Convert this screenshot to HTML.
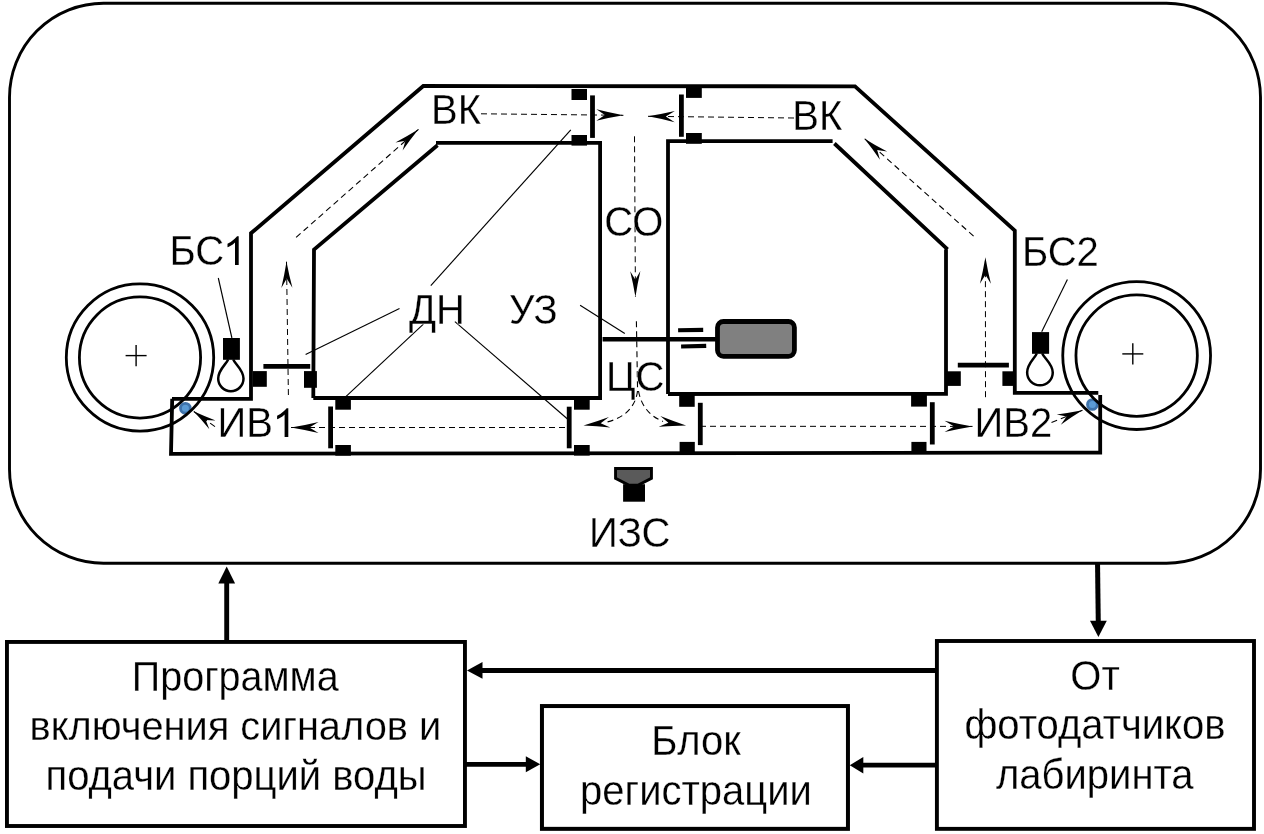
<!DOCTYPE html><html><head><meta charset="utf-8"><style>html,body{margin:0;padding:0;background:#fff;width:1264px;height:834px;overflow:hidden;font-family:"Liberation Sans",sans-serif}</style></head><body><svg width="1264" height="834" viewBox="0 0 1264 834" style="position:absolute;left:0;top:0;will-change:transform">
<rect width="1264" height="834" fill="#fff"/>
<circle cx="185.4" cy="408.3" r="4.9" fill="#5b9bd5" stroke="#3f73ab" stroke-width="2.8"/>
<circle cx="1092.4" cy="404.5" r="4.9" fill="#5b9bd5" stroke="#3f73ab" stroke-width="2.8"/>
<rect x="9.5" y="3.3" width="1251" height="560" rx="94" ry="94" fill="none" stroke="#000" stroke-width="2.9"/>
<path d="M172,398.8 L251,398.8 L251,233.2 L423.3,86 L855,86.3 L1014.8,230.7 L1014.8,392.9 L1098.3,392.9 M1100.2,395 L1100.2,454.5 M1102,452.6 L171,453.8 L172.2,398.8" fill="none" stroke="#000" stroke-width="3.8" stroke-linejoin="miter"/>
<path d="M313.3,398 L314,249.6 L437.5,145.3 M436,142.9 L600.1,142.9 L600.1,398 L313.3,398" fill="none" stroke="#000" stroke-width="3.8"/>
<path d="M668,394 L668,141.1 L832.6,141.1 M834.4,143.5 L947.6,249.4 M946,249.6 L946,393.9 L668,394" fill="none" stroke="#000" stroke-width="3.8"/>
<rect x="571.5" y="89" width="15.5" height="11" fill="#000"/>
<rect x="571.5" y="135" width="15.5" height="10.6" fill="#000"/>
<rect x="686" y="87.3" width="15.8" height="10.6" fill="#000"/>
<rect x="686" y="133" width="15.8" height="10.8" fill="#000"/>
<rect x="252.8" y="371.1" width="14" height="15.7" fill="#000"/>
<rect x="304" y="371.1" width="12.9" height="16.7" fill="#000"/>
<rect x="946.4" y="371.3" width="14.4" height="14.6" fill="#000"/>
<rect x="1002.4" y="371.3" width="12.8" height="14.6" fill="#000"/>
<rect x="335.3" y="398.4" width="15.6" height="11.3" fill="#000"/>
<rect x="335.3" y="445" width="15.6" height="10.7" fill="#000"/>
<rect x="574" y="398.4" width="15.7" height="11.3" fill="#000"/>
<rect x="574" y="445" width="15.7" height="10.6" fill="#000"/>
<rect x="679.2" y="395" width="15.5" height="11.8" fill="#000"/>
<rect x="679.6" y="441.9" width="15.2" height="11.3" fill="#000"/>
<rect x="911.1" y="395" width="15.8" height="11.6" fill="#000"/>
<rect x="911.4" y="441.9" width="15.1" height="11.3" fill="#000"/>
<line x1="592.5" y1="95.4" x2="592.5" y2="137.9" stroke="#000" stroke-width="4.8" stroke-linecap="butt"/>
<line x1="681.4" y1="94.5" x2="681.4" y2="136.8" stroke="#000" stroke-width="4.8" stroke-linecap="butt"/>
<line x1="330.6" y1="406.5" x2="330.6" y2="448.3" stroke="#000" stroke-width="4.8" stroke-linecap="butt"/>
<line x1="569.2" y1="406.7" x2="569.2" y2="448.3" stroke="#000" stroke-width="4.8" stroke-linecap="butt"/>
<line x1="700.3" y1="402.8" x2="700.3" y2="445.1" stroke="#000" stroke-width="4.8" stroke-linecap="butt"/>
<line x1="932.3" y1="402.2" x2="932.3" y2="444.5" stroke="#000" stroke-width="4.8" stroke-linecap="butt"/>
<line x1="263.4" y1="366.4" x2="310.2" y2="366.4" stroke="#000" stroke-width="4.8" stroke-linecap="butt"/>
<line x1="957.8" y1="365.2" x2="1008.9" y2="365.2" stroke="#000" stroke-width="4.8" stroke-linecap="butt"/>
<circle cx="140" cy="357.5" r="73.7" fill="none" stroke="#000" stroke-width="2.8"/>
<circle cx="140" cy="357.5" r="60.6" fill="none" stroke="#000" stroke-width="2.8"/>
<circle cx="1136.65" cy="355.6" r="73.9" fill="none" stroke="#000" stroke-width="2.8"/>
<circle cx="1136.65" cy="355.6" r="60.7" fill="none" stroke="#000" stroke-width="2.8"/>
<line x1="125.6" y1="355.6" x2="146.6" y2="355.6" stroke="#000" stroke-width="1.4" stroke-linecap="butt"/>
<line x1="136.1" y1="344.90000000000003" x2="136.1" y2="366.3" stroke="#000" stroke-width="1.4" stroke-linecap="butt"/>
<line x1="1122.3" y1="353.9" x2="1143.3" y2="353.9" stroke="#000" stroke-width="1.4" stroke-linecap="butt"/>
<line x1="1132.8" y1="343.2" x2="1132.8" y2="364.59999999999997" stroke="#000" stroke-width="1.4" stroke-linecap="butt"/>
<rect x="223" y="338" width="16.9" height="21.8" fill="#000"/>
<path d="M228.2,359.3 C226.39999999999998,364.3 218.2,369.55 218.2,378.55 A12.65,12.65 0 0 0 243.5,378.55 C243.5,369.55 235.0,364.3 233.2,359.3" fill="none" stroke="#000" stroke-width="2.5"/>
<rect x="1032" y="332.1" width="17.1" height="21.7" fill="#000"/>
<path d="M1036.8,353.3 C1035.0,358.3 1027.15,363.55 1027.15,372.55 A12.8,12.8 0 0 0 1052.75,372.55 C1052.75,363.55 1044.0,358.3 1042.2,353.3" fill="none" stroke="#000" stroke-width="2.5"/>
<line x1="218.3" y1="278" x2="231.9" y2="338" stroke="#000" stroke-width="1.15" stroke-linecap="butt"/>
<line x1="1067.4" y1="279.6" x2="1041.7" y2="331.7" stroke="#000" stroke-width="1.15" stroke-linecap="butt"/>
<line x1="430.8" y1="285.6" x2="570.8" y2="129.8" stroke="#000" stroke-width="1.15" stroke-linecap="butt"/>
<line x1="399.5" y1="308.5" x2="305.6" y2="354.4" stroke="#000" stroke-width="1.15" stroke-linecap="butt"/>
<line x1="423.4" y1="324.1" x2="346.1" y2="396.4" stroke="#000" stroke-width="1.15" stroke-linecap="butt"/>
<line x1="454.9" y1="321.6" x2="567.8" y2="419.3" stroke="#000" stroke-width="1.15" stroke-linecap="butt"/>
<line x1="580.1" y1="305.2" x2="624.8" y2="333.6" stroke="#000" stroke-width="1.15" stroke-linecap="butt"/>
<line x1="288.4" y1="395" x2="286.5" y2="261.7" stroke="#000" stroke-width="1.0" stroke-linecap="butt" stroke-dasharray="6 4"/>
<path d="M286.50,261.70 Q288.96,274.72 292.42,287.72 L286.74,278.50 L281.32,287.88 Q284.41,274.78 286.50,261.70 Z" fill="#000"/>
<line x1="296.1" y1="237.4" x2="418.5" y2="129.3" stroke="#000" stroke-width="1.1" stroke-linecap="butt" stroke-dasharray="6 4"/>
<path d="M418.50,129.30 Q410.21,139.55 402.59,150.56 L405.46,140.82 L395.44,142.46 Q407.30,136.26 418.50,129.30 Z" fill="#000"/>
<line x1="481" y1="113.8" x2="623.4" y2="115.3" stroke="#000" stroke-width="1.0" stroke-linecap="butt" stroke-dasharray="6 4"/>
<path d="M623.40,115.30 Q609.88,117.51 596.34,120.72 L604.90,115.11 L596.46,109.32 Q609.93,112.81 623.40,115.30 Z" fill="#000"/>
<line x1="794" y1="118" x2="648" y2="116.3" stroke="#000" stroke-width="1.0" stroke-linecap="butt" stroke-dasharray="6 4"/>
<path d="M648.00,116.30 Q661.43,114.18 674.86,111.06 L665.80,116.51 L674.73,122.16 Q661.37,118.73 648.00,116.30 Z" fill="#000"/>
<line x1="634.5" y1="136.3" x2="635.45" y2="296.9" stroke="#000" stroke-width="1.0" stroke-linecap="butt" stroke-dasharray="6 4"/>
<path d="M635.45,296.90 Q633.32,284.01 630.20,271.13 L635.35,279.80 L640.40,271.07 Q637.42,283.99 635.45,296.90 Z" fill="#000"/>
<line x1="973.6" y1="236.2" x2="864.3" y2="138.4" stroke="#000" stroke-width="1.1" stroke-linecap="butt" stroke-dasharray="6 4"/>
<path d="M864.30,138.40 Q875.38,145.36 887.13,151.58 L877.19,149.94 L879.93,159.63 Q872.45,148.64 864.30,138.40 Z" fill="#000"/>
<line x1="985.5" y1="397.2" x2="985.4" y2="257.2" stroke="#000" stroke-width="1.0" stroke-linecap="butt" stroke-dasharray="6 4"/>
<path d="M985.40,257.20 Q987.66,270.45 990.92,283.70 L985.41,274.70 L979.92,283.70 Q983.16,270.45 985.40,257.20 Z" fill="#000"/>
<line x1="565" y1="427.5" x2="291.04" y2="427.5" stroke="#000" stroke-width="1.0" stroke-linecap="butt" stroke-dasharray="6 4"/>
<path d="M291.04,427.50 Q304.79,425.21 318.54,421.93 L309.34,427.50 L318.54,433.07 Q304.79,429.79 291.04,427.50 Z" fill="#000"/>
<line x1="700" y1="426.3" x2="972.55" y2="426.4" stroke="#000" stroke-width="1.0" stroke-linecap="butt" stroke-dasharray="6 4"/>
<path d="M972.55,426.40 Q958.55,428.72 944.55,432.04 L954.15,426.39 L944.55,420.74 Q958.55,424.07 972.55,426.40 Z" fill="#000"/>
<line x1="215" y1="426.6" x2="193.5" y2="411.3" stroke="#000" stroke-width="1.1" stroke-linecap="butt" stroke-dasharray="6 4"/>
<path d="M193.50,411.30 Q204.27,416.26 215.61,420.41 L205.72,420.00 L209.35,429.21 Q201.72,419.85 193.50,411.30 Z" fill="#000"/>
<line x1="1051.5" y1="422.4" x2="1082.5" y2="410.3" stroke="#000" stroke-width="1.1" stroke-linecap="butt" stroke-dasharray="6 4"/>
<path d="M1082.50,410.30 Q1071.44,417.03 1060.75,424.70 L1066.66,416.48 L1056.75,414.45 Q1069.80,412.84 1082.50,410.30 Z" fill="#000"/>
<line x1="636.4" y1="321.2" x2="637.6" y2="391" stroke="#000" stroke-width="1.1" stroke-linecap="butt" stroke-dasharray="6 4"/>
<path d="M637.5,391 C636,405 626,418 606,422.2" fill="none" stroke="#000" stroke-width="1.1" stroke-dasharray="6 4"/>
<path d="M638.5,391 C641,405 649,416 663,421.4" fill="none" stroke="#000" stroke-width="1.1" stroke-dasharray="6 4"/>
<path d="M583.50,425.40 Q596.30,421.67 608.97,416.94 L600.68,423.33 L610.25,427.57 Q596.82,425.99 583.50,425.40 Z" fill="#000"/>
<path d="M686.10,425.40 Q672.47,425.58 658.70,426.74 L668.40,422.74 L660.30,416.06 Q673.13,421.22 686.10,425.40 Z" fill="#000"/>
<line x1="602.6" y1="339.35" x2="717.2" y2="339.35" stroke="#000" stroke-width="4.5" stroke-linecap="butt"/>
<line x1="678.1" y1="330.3" x2="703.2" y2="329.9" stroke="#000" stroke-width="4.1" stroke-linecap="butt"/>
<line x1="681.1" y1="346.5" x2="706.2" y2="345.9" stroke="#000" stroke-width="4.1" stroke-linecap="butt"/>
<rect x="717.5" y="321.5" width="76.9" height="34.8" rx="6" ry="6" fill="#808080" stroke="#000" stroke-width="4.8"/>
<path d="M615.55,468.45 L651.45,468.45 L651.45,478.3 L637.8,485.2 L629.2,485.2 L615.55,478.3 Z" fill="#5a5a5a" stroke="#000" stroke-width="2.9"/>
<rect x="623.1" y="484.2" width="21.9" height="17.5" fill="#000"/>
<g font-family="Liberation Sans, sans-serif" fill="#000" stroke="#fff" stroke-width="0.25">
<text transform="translate(431,123.8) scale(1,1.04)" font-size="40" text-anchor="start">ВК</text>
<text transform="translate(792.25,129.8) scale(1,1.04)" font-size="40" text-anchor="start">ВК</text>
<text transform="translate(604.2,236.3) scale(1,1.04)" font-size="40" text-anchor="start">СО</text>
<text transform="translate(169.5,265.1) scale(1,1.04)" font-size="40" text-anchor="start">БС</text>
<text transform="translate(1021.9,265.7) scale(1,1.04)" font-size="40" text-anchor="start">БС2</text>
<text transform="translate(408.9,323.7) scale(1,1.04)" font-size="40" text-anchor="start">ДН</text>
<text transform="translate(509,323.6) scale(1,1.04)" font-size="40" text-anchor="start">УЗ</text>
<text transform="translate(606,390.7) scale(1,1.04)" font-size="40" text-anchor="start">ЦС</text>
<text transform="translate(217.4,437) scale(1,1.04)" font-size="40" text-anchor="start">ИВ</text>
<text transform="translate(974.6,437) scale(1,1.04)" font-size="40" text-anchor="start">ИВ2</text>
<text transform="translate(589.1,546.8) scale(1,1.04)" font-size="40" text-anchor="start">ИЗС</text>
</g>
<path d="M238.7,265.1 L235.0,265.1 L235.0,242.40000000000003 C233.7,243.70000000000002 232.1,244.90000000000003 230.2,246.00000000000003 C229.29999999999998,246.50000000000003 228.39999999999998,246.90000000000003 227.5,247.3 L227.5,243.8 C229.79999999999998,242.70000000000002 231.79999999999998,241.40000000000003 233.5,239.8 C235.2,238.20000000000002 236.39999999999998,237.20000000000002 237.0,236.20000000000002 L238.7,236.20000000000002 Z" fill="#000"/>
<path d="M288.3,437.1 L284.6,437.1 L284.6,414.40000000000003 C283.3,415.70000000000005 281.7,416.90000000000003 279.8,418.0 C278.90000000000003,418.5 278.0,418.90000000000003 277.1,419.3 L277.1,415.8 C279.40000000000003,414.70000000000005 281.40000000000003,413.40000000000003 283.1,411.8 C284.8,410.20000000000005 286.0,409.20000000000005 286.6,408.20000000000005 L288.3,408.20000000000005 Z" fill="#000"/>
<rect x="6.95" y="641.95" width="458" height="184.05" fill="none" stroke="#000" stroke-width="3.9"/>
<rect x="541.95" y="706.05" width="306" height="122.8" fill="none" stroke="#000" stroke-width="4"/>
<rect x="936.9" y="641" width="317.1" height="187.85" fill="none" stroke="#000" stroke-width="3.9"/>
<line x1="226.7" y1="640" x2="226.7" y2="580" stroke="#000" stroke-width="4.9" stroke-linecap="butt"/>
<path d="M226.7,566.5 L235.1,583.5 L218.3,583.5 Z" fill="#000"/>
<line x1="1097.55" y1="564" x2="1098.3" y2="625" stroke="#000" stroke-width="5" stroke-linecap="butt"/>
<path d="M1098.4,637.1 L1090.0,620.8 L1106.8,620.8 Z" fill="#000"/>
<line x1="937" y1="670.5" x2="478" y2="670.5" stroke="#000" stroke-width="5" stroke-linecap="butt"/>
<path d="M467.0,670.4 L482.5,662.0 L482.5,678.8 Z" fill="#000"/>
<line x1="466" y1="764.4" x2="530" y2="764.4" stroke="#000" stroke-width="4.8" stroke-linecap="butt"/>
<path d="M540.2,764.2 L525.8,772.2 L525.8,756.2 Z" fill="#000"/>
<line x1="937" y1="765.1" x2="858" y2="765.1" stroke="#000" stroke-width="4.8" stroke-linecap="butt"/>
<path d="M849.8,765.2 L863.3,757.0 L863.3,773.5 Z" fill="#000"/>
<g font-family="Liberation Sans, sans-serif" fill="#000" stroke="#fff" stroke-width="0.25" font-size="40" text-anchor="middle">
<text transform="translate(235.26,691) scale(0.987,1.04)" font-size="40" text-anchor="middle">Программа</text>
<text transform="translate(235.35,740.2) scale(0.995,1.04)" font-size="40" text-anchor="middle">включения сигналов и</text>
<text transform="translate(236,790) scale(1,1.04)" font-size="40" text-anchor="middle">подачи порций воды</text>
<text transform="translate(696,755) scale(1,1.04)" font-size="40" text-anchor="middle">Блок</text>
<text transform="translate(696,804.8) scale(1,1.04)" font-size="40" text-anchor="middle">регистрации</text>
<text transform="translate(1095,689.9) scale(1,1.04)" font-size="40" text-anchor="middle">От</text>
<text transform="translate(1095,739) scale(1,1.04)" font-size="40" text-anchor="middle">фотодатчиков</text>
<text transform="translate(1094.8,788.6) scale(1,1.04)" font-size="40" text-anchor="middle">лабиринта</text>
</g>
</svg></body></html>
